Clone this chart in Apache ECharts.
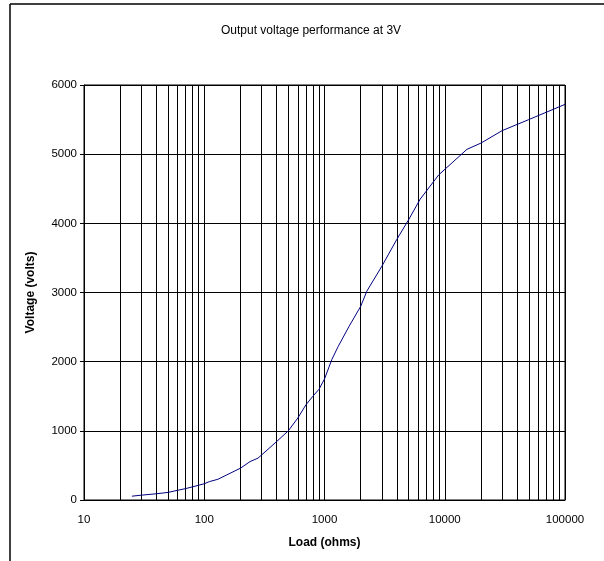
<!DOCTYPE html>
<html>
<head>
<meta charset="utf-8">
<script src="https://cdn.jsdelivr.net/npm/echarts@6/dist/echarts.min.js"></script>
<style>html,body{margin:0;padding:0;background:#fff}#c{width:604px;height:561px}</style>
</head>
<body>
<div id="c"></div>
<script>
const loadOhms = [25, 30, 40, 50, 60, 70, 80, 100, 110, 130, 200, 240, 280, 400, 500, 600, 700, 800, 900, 1000, 1150, 1300, 1600, 2000, 2250, 3000, 4000, 5000, 6250, 8900, 15300, 20000, 30000, 50000, 100000];
const voltage = [55, 70, 90, 110, 140, 165, 190, 235, 265, 300, 460, 555, 605, 845, 1000, 1185, 1375, 1500, 1600, 1750, 2030, 2220, 2510, 2800, 3020, 3380, 3770, 4050, 4350, 4700, 5070, 5160, 5340, 5500, 5720];
const xMajorTicks = [10, 100, 1000, 10000, 100000];
const xGridValues = [10,20,30,40,50,60,70,80,90,100,200,300,400,500,600,700,800,900,1000,2000,3000,4000,5000,6000,7000,8000,9000,10000,20000,30000,40000,50000,60000,70000,80000,90000,100000];

const chart = echarts.init(document.getElementById('c'));
const font = 'Liberation Sans, Arial, sans-serif';
chart.setOption({
  animation: false,
  title: {
    text: 'Output voltage performance at 3V',
    left: 216, top: 20,
    textStyle: { fontFamily: font, fontSize: 12, fontWeight: 'normal', color: '#000' }
  },
  graphic: [
    { type: 'line', shape: { x1: 10, y1: 4, x2: 604, y2: 4 }, style: { stroke: '#000', lineWidth: 1.5 } },
    { type: 'line', shape: { x1: 10, y1: 4, x2: 10, y2: 561 }, style: { stroke: '#000', lineWidth: 1.5 } }
  ],
  grid: { left: 84, top: 85, width: 481, height: 415, show: true, borderColor: '#000', borderWidth: 1 },
  xAxis: {
    type: 'log', logBase: 10, min: 10, max: 100000,
    name: 'Load (ohms)', nameLocation: 'middle', nameGap: 37,
    nameTextStyle: { fontFamily: font, fontSize: 12, fontWeight: 'bold', color: '#000' },
    axisLine: { lineStyle: { color: '#000', width: 1 } },
    axisTick: { show: false, customValues: xGridValues },
    axisLabel: { customValues: xMajorTicks, fontFamily: font, fontSize: 11.5, color: '#000', margin: 14,
      formatter: v => String(Math.round(v)) },
    splitLine: { show: true, lineStyle: { color: '#000', width: 1 } },
    minorSplitLine: { show: false }
  },
  yAxis: {
    type: 'value', min: 0, max: 6000, interval: 1000,
    name: 'Voltage (volts)', nameLocation: 'middle', nameGap: 47, nameRotate: 90,
    nameTextStyle: { fontFamily: font, fontSize: 12, fontWeight: 'bold', color: '#000' },
    axisLine: { show: true, lineStyle: { color: '#000', width: 1 } },
    axisTick: { show: true, inside: false, length: 4, lineStyle: { color: '#000' } },
    axisLabel: { fontFamily: font, fontSize: 11.5, color: '#000', margin: 7,
      formatter: v => String(v) },
    splitLine: { show: true, lineStyle: { color: '#000', width: 1 } }
  },
  series: [{
    type: 'line',
    data: loadOhms.map((x, i) => [x, voltage[i]]),
    showSymbol: false,
    lineStyle: { color: '#000080', width: 1 },
    itemStyle: { color: '#000080' }
  }]
});
</script>
</body>
</html>
